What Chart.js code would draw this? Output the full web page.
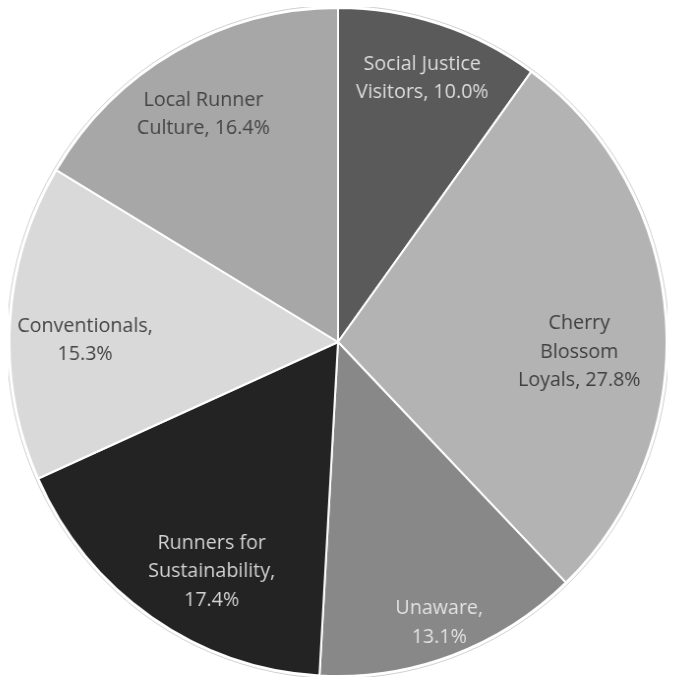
<!DOCTYPE html>
<html>
<head>
<meta charset="utf-8">
<script src="https://cdn.jsdelivr.net/npm/chart.js@4"></script>
<style>
  html, body { margin: 0; padding: 0; background: #fff; overflow: hidden; }
  #wrap { position: absolute; left: 3px; top: 7px; width: 670px; height: 670px;
          transform: scaleX(0.9835); transform-origin: 50% 50%; }
</style>
</head>
<body>
<div id="wrap"><canvas id="myChart"></canvas></div>
<script>
const categories = ['Social Justice Visitors', 'Cherry Blossom Loyals', 'Unaware', 'Runners for Sustainability', 'Conventionals', 'Local Runner Culture'];
const shares = [10.0, 27.8, 13.1, 17.4, 15.3, 16.4];
// how each label is broken over lines, as in the picture
const labelLines = [
    ['Social Justice', 'Visitors, 10.0%'],
    ['Cherry', 'Blossom', 'Loyals, 27.8%'],
    ['Unaware,', '13.1%'],
    ['Runners for', 'Sustainability,', '17.4%'],
    ['Conventionals,', '15.3%'],
    ['Local Runner', 'Culture, 16.4%']
];

const sliceColors = ['#5a5a5a', '#b3b3b3', '#888888', '#232323', '#d9d9d9', '#a7a7a7'];
const textColors = ['#dcdcdc', '#404040', '#e2e2e2', '#d2d2d2', '#454545', '#454545'];
const labelRadius = [0.83, 0.735, 0.895, 0.787, 0.77, 0.795];
const labelShift = [0, 6.3, 0.2, -5.3, -3, -1.5]; // degrees

const pieLabels = {
    id: 'pieLabels',
    beforeDatasetsDraw(chart) {
        // faint outline around the pie
        const arc = chart.getDatasetMeta(0).data[0];
        const ctx = chart.ctx;
        ctx.save();
        ctx.strokeStyle = '#d0d0d0';
        ctx.lineWidth = 1;
        ctx.beginPath();
        ctx.arc(arc.x, arc.y, arc.outerRadius + 2.5, 0, Math.PI * 2);
        ctx.stroke();
        ctx.restore();
    },
    afterDatasetsDraw(chart) {
        const ctx = chart.ctx;
        const arcs = chart.getDatasetMeta(0).data;
        ctx.save();
        ctx.font = '20px "Open Sans"';
        ctx.textAlign = 'center';
        ctx.textBaseline = 'middle';
        arcs.forEach((arc, i) => {
            const p = arc.getProps(['x', 'y', 'startAngle', 'endAngle', 'outerRadius'], true);
            const mid = (p.startAngle + p.endAngle) / 2 + labelShift[i] * Math.PI / 180;
            const r = p.outerRadius * labelRadius[i];
            const cx = p.x + Math.cos(mid) * r;
            const cy = p.y + Math.sin(mid) * r;
            const lines = labelLines[i];
            const lh = 28.5;
            ctx.fillStyle = textColors[i];
            lines.forEach((t, k) => {
                ctx.fillText(t, cx, cy + (k - (lines.length - 1) / 2) * lh);
            });
        });
        ctx.restore();
    }
};

const chart = new Chart(document.getElementById('myChart').getContext('2d'), {
    type: 'pie',
    data: {
        labels: categories,
        datasets: [{
            data: shares,
            backgroundColor: sliceColors,
            borderColor: '#ffffff',
            borderWidth: 2
        }]
    },
    options: {
        responsive: true,
        maintainAspectRatio: false,
        animation: false,
        layout: { padding: 0 },
        plugins: {
            legend: { display: false },
            tooltip: { enabled: false }
        }
    },
    plugins: [pieLabels]
});
</script>
</body>
</html>
